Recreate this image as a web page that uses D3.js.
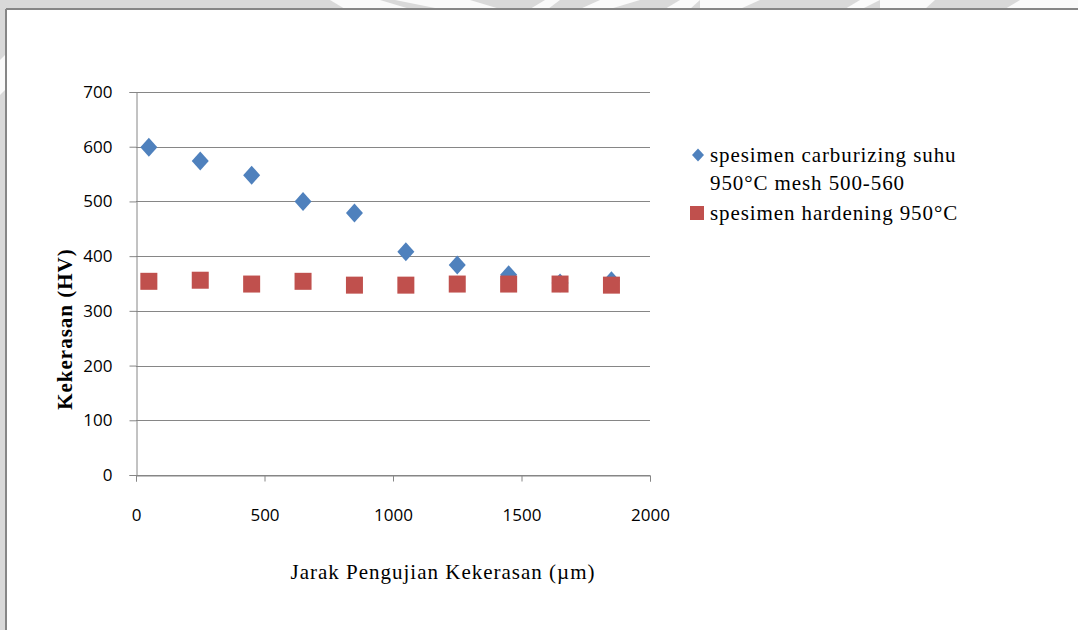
<!DOCTYPE html>
<html>
<head>
<meta charset="utf-8">
<script src="https://cdn.jsdelivr.net/npm/d3@7"></script>
<style>
  html, body { margin: 0; padding: 0; background: #ffffff; }
  svg { display: block; }
</style>
</head>
<body>
<svg id="chart" width="1078" height="630"></svg>
<script>
// Hardness test distances (µm) and Vickers hardness values (HV)
const distances = [50, 250, 450, 650, 850, 1050, 1250, 1450, 1650, 1850];
const carburizing = [599, 574, 548, 500, 479, 408, 384, 366, 351, 355];
const hardening = [354, 356, 349, 354, 347, 347, 349, 349, 349, 347];

const seriesNames = [
  ["spesimen carburizing suhu", "950°C mesh 500-560"],
  ["spesimen hardening 950°C"]
];
const xTicks = [0, 500, 1000, 1500, 2000];
const yTicks = [0, 100, 200, 300, 400, 500, 600, 700];
const xTitle = "Jarak Pengujian Kekerasan (µm)";
const yTitle = "Kekerasan (HV)";

const svg = d3.select("#chart");
const W = 1078, H = 630;

// page background strip and chart frame
svg.append("rect").attr("width", W).attr("height", H).attr("fill", "#d9d9d9");
const shapes = [
  "M330,0 L380,0 L410,9 L345,9 Z", "M395,0 L470,0 L500,9 L440,9 Z",
  "M545,0 L560,0 L548,9 L530,9 Z", "M600,0 L640,0 L610,9 L580,9 Z",
  "M680,0 L700,0 L690,9 L665,9 Z", "M700,0 L760,0 L740,9 L700,9 Z",
  "M860,0 L880,0 L862,9 L845,9 Z", "M880,0 L935,0 L925,9 L880,9 Z",
  "M1020,0 L1078,0 L1078,9 L1005,9 Z", "M0,60 L5,55 L5,90 L0,95 Z"
];
svg.append("g").selectAll("path").data(shapes).join("path")
  .attr("d", d => d).attr("fill", "#ffffff").attr("opacity", 0.85);
svg.append("rect").attr("x", 6).attr("y", 9).attr("width", W - 6).attr("height", H - 9)
  .attr("fill", "#ffffff");
svg.append("line").attr("x1", 6).attr("x2", W).attr("y1", 9).attr("y2", 9)
  .attr("stroke", "#868686").attr("stroke-width", 2);
svg.append("line").attr("x1", 6).attr("x2", 6).attr("y1", 9).attr("y2", H)
  .attr("stroke", "#868686").attr("stroke-width", 2);

const plotLeft = 136, plotRight = 650, plotTop = 92, plotBottom = 475;
const x = d3.scaleLinear().domain([0, 2000]).range([plotLeft, plotRight]);
const y = d3.scaleLinear().domain([0, 700]).range([plotBottom, plotTop]);

const grid = "#868686";
const tickFont = "'Open Sans', 'Liberation Sans', sans-serif";
const serif = "'Liberation Serif', 'Times New Roman', serif";

// horizontal gridlines
svg.append("g").selectAll("line").data(yTicks).join("line")
  .attr("x1", plotLeft).attr("x2", plotRight)
  .attr("y1", d => Math.round(y(d)) + 0.5).attr("y2", d => Math.round(y(d)) + 0.5)
  .attr("stroke", grid).attr("stroke-width", 1);

// y axis
const yAxis = svg.append("g").attr("transform", `translate(${plotLeft + 0.5},0)`)
  .call(d3.axisLeft(y).tickValues(yTicks).tickSize(7).tickPadding(17)
    .tickFormat(d3.format("d")));
yAxis.select(".domain").attr("stroke", grid);
yAxis.selectAll(".tick line").attr("stroke", grid);
yAxis.selectAll("text").attr("font-family", tickFont)
  .attr("font-size", 17).attr("fill", "#000");

// x axis
const xAxis = svg.append("g").attr("transform", `translate(0,${Math.round(plotBottom) + 0.5})`)
  .call(d3.axisBottom(x).tickValues(xTicks).tickSize(6).tickPadding(27)
    .tickFormat(d3.format("d")));
xAxis.select(".domain").attr("stroke", grid);
xAxis.selectAll(".tick line").attr("stroke", grid);
xAxis.selectAll("text").attr("font-family", tickFont)
  .attr("font-size", 17).attr("fill", "#000");

// axis titles
svg.append("text").attr("x", 443).attr("y", 579)
  .attr("text-anchor", "middle")
  .attr("font-family", serif).attr("font-size", 21).attr("letter-spacing", 1)
  .text(xTitle);
svg.append("text")
  .attr("transform", "translate(72,329) rotate(-90)")
  .attr("text-anchor", "middle")
  .attr("font-family", serif).attr("font-size", 21)
  .attr("font-weight", "bold").attr("letter-spacing", 1)
  .text(yTitle);

const blue = "#4f81bd", red = "#c0504d";

// rhombus marker (half-width hw, half-height hh)
const rhombus = (hw, hh) => ({
  draw(ctx) {
    ctx.moveTo(0, -hh); ctx.lineTo(hw, 0); ctx.lineTo(0, hh); ctx.lineTo(-hw, 0); ctx.closePath();
  }
});

// series 1: diamonds
svg.append("g").selectAll("path").data(distances.map((d, i) => [d, carburizing[i]]))
  .join("path")
  .attr("transform", d => `translate(${x(d[0])},${y(d[1])})`)
  .attr("d", d3.symbol().type(rhombus(8.5, 9.5))).attr("fill", blue);

// series 2: squares (drawn on top)
const sq = 17;
svg.append("g").selectAll("rect").data(distances.map((d, i) => [d, hardening[i]]))
  .join("rect")
  .attr("x", d => x(d[0]) - sq / 2).attr("y", d => y(d[1]) - sq / 2)
  .attr("width", sq).attr("height", sq).attr("fill", red);

// legend
const lg = svg.append("g").attr("font-family", serif)
  .attr("font-size", 21).attr("letter-spacing", 0.9);
lg.append("path").attr("transform", "translate(698,155)")
  .attr("d", d3.symbol().type(rhombus(6, 6.5))).attr("fill", blue);
lg.append("text").attr("x", 710).attr("y", 162).text(seriesNames[0][0]);
lg.append("text").attr("x", 710).attr("y", 190).text(seriesNames[0][1]);
lg.append("rect").attr("x", 690).attr("y", 206).attr("width", 14).attr("height", 14)
  .attr("fill", red);
lg.append("text").attr("x", 710).attr("y", 220).text(seriesNames[1][0]);
</script>
</body>
</html>
